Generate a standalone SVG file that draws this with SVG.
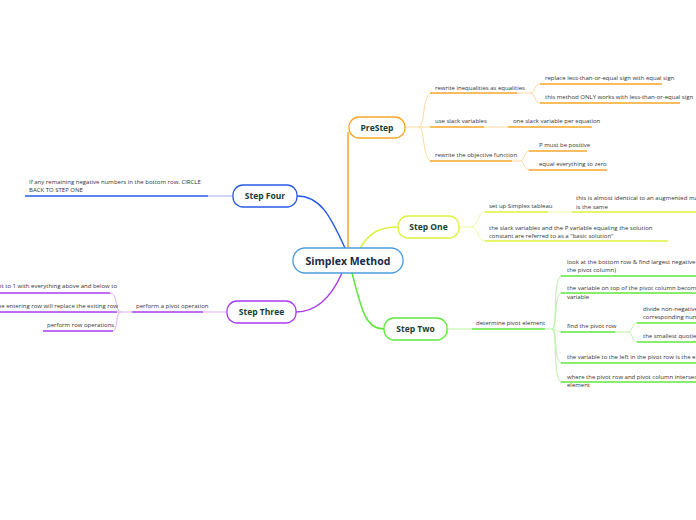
<svg xmlns="http://www.w3.org/2000/svg" width="696" height="520" viewBox="0 0 696 520">
<style>
.t{font-family:"Open Sans","Noto Sans",sans-serif;font-size:6px;fill:#333}
.n{font-family:"Open Sans","Noto Sans",sans-serif;font-size:8.5px;font-weight:bold;fill:#163f33;text-anchor:middle}
.c{font-family:"Open Sans","Noto Sans",sans-serif;font-size:10.5px;font-weight:bold;fill:#172a4a;text-anchor:middle}
.box{fill:#fff;stroke-width:1.3}
path{fill:none}
.o{stroke:#f7a62a;stroke-width:1.5}.ol{stroke:#fcd9a2;stroke-width:1}
.y{stroke:#dcf23c;stroke-width:1.5}.yl{stroke:#eef8a6;stroke-width:1}
.g{stroke:#5fe83c;stroke-width:1.5}.gl{stroke:#b6f4a4;stroke-width:1}
.p{stroke:#a93ef0;stroke-width:1.5}.pl{stroke:#dfb2f7;stroke-width:1}
.b{stroke:#2a5be8;stroke-width:1.5}.bl{stroke:#9db2f3;stroke-width:1}
</style>
<rect width="696" height="520" fill="#fff"/>
<g id="connectors">
<path class="o" d="M348,132 V248"/>
<path class="y" d="M360,248 C370,232 380,227 398,227"/>
<path class="g" d="M352,273 C362,312 366,329 384,329"/>
<path class="p" d="M342,273 C330,300 315,312 296,312"/>
<path class="b" d="M345,248 C330,215 320,196 297,196"/>
<!-- PreStep -->
<path class="ol" d="M405,127 H419"/>
<path class="ol" d="M419,127 C425,127 422,93 432,93"/>
<path class="ol" d="M419,127 H430"/>
<path class="ol" d="M419,127 C425,127 422,161 432,161"/>
<path class="o" d="M430,93 H517"/><path class="ol" d="M517,93 H530"/>
<path class="ol" d="M530,93 C536,93 533,84 541,84"/>
<path class="ol" d="M530,93 C536,93 533,103 541,103"/>
<path class="o" d="M540,84 H662"/>
<path class="o" d="M540,103 H680"/>
<path class="o" d="M430,127 H484"/><path class="ol" d="M484,127 H508"/>
<path class="o" d="M508,127 H592"/>
<path class="o" d="M430,161 H512"/><path class="ol" d="M512,161 H520"/>
<path class="ol" d="M520,161 C525,161 523,151 530,151"/>
<path class="ol" d="M520,161 C525,161 523,170 530,170"/>
<path class="o" d="M529,151 H587"/>
<path class="o" d="M529,170 H607"/>
<!-- Step One -->
<path class="yl" d="M459,227 H471"/>
<path class="yl" d="M471,227 C479,227 476,212 486,212"/>
<path class="yl" d="M471,227 C479,227 476,241 486,241"/>
<path class="y" d="M485,212 H548"/><path class="yl" d="M548,212 H572"/>
<path class="y" d="M572,212 H696"/>
<path class="y" d="M485,241 H668"/>
<!-- Step Two -->
<path class="gl" d="M447,329 H472"/>
<path class="g" d="M472,329 H545"/><path class="gl" d="M545,329 H552"/>
<path class="gl" d="M552,329 C558,329 552,276 562,276"/>
<path class="gl" d="M552,329 C558,329 553,293 562,293"/>
<path class="gl" d="M552,329 C557,329 556,332 562,332"/>
<path class="gl" d="M552,329 C558,329 553,363 562,363"/>
<path class="gl" d="M552,329 C558,329 552,382 562,382"/>
<path class="g" d="M561,276 H696"/>
<path class="g" d="M561,293 H696"/>
<path class="g" d="M561,332 H615"/><path class="gl" d="M615,332 H628"/>
<path class="gl" d="M628,332 C633,332 631,323 638,323"/>
<path class="gl" d="M628,332 C633,332 631,342 638,342"/>
<path class="g" d="M637,323 H696"/>
<path class="g" d="M637,342 H696"/>
<path class="g" d="M561,363 H696"/>
<path class="g" d="M561,382 H696"/>
<!-- Step Three -->
<path class="pl" d="M227,312 H203"/>
<path class="p" d="M203,312 H132"/><path class="pl" d="M132,312 H121"/>
<path class="pl" d="M121,312 C115,312 118,293 110,293"/>
<path class="pl" d="M121,312 H117"/>
<path class="pl" d="M121,312 C115,312 118,331 113,331"/>
<path class="p" d="M0,293 H110"/>
<path class="p" d="M0,312 H117"/>
<path class="p" d="M43,331 H113"/>
<!-- Step Four -->
<path class="bl" d="M233,196 H208"/>
<path class="b" d="M208,196 H25"/>
</g>
<g id="central"><rect class="box" x="293" y="248" width="110" height="25" rx="12" stroke="#4a9cdb"/><text class="c" x="348" y="264.5">Simplex Method</text></g>
<g id="prestep"><rect class="box" x="349" y="117" width="56" height="21" rx="10" stroke="#f7a62a"/><text class="n" x="377" y="130.5">PreStep</text></g>
<g id="stepone"><rect class="box" x="398" y="216" width="61" height="22" rx="10" stroke="#dcf23c"/><text class="n" x="428.5" y="230">Step One</text></g>
<g id="steptwo"><rect class="box" x="384" y="318" width="63" height="22" rx="10" stroke="#5fe83c"/><text class="n" x="415.5" y="332">Step Two</text></g>
<g id="stepthree"><rect class="box" x="227" y="301" width="69" height="22" rx="10" stroke="#a93ef0"/><text class="n" x="261.5" y="315">Step Three</text></g>
<g id="stepfour"><rect class="box" x="233" y="185" width="64" height="22" rx="10" stroke="#2a5be8"/><text class="n" x="265" y="199">Step Four</text></g>
<g id="texts">
<text class="t" x="435" y="90">rewrite inequalities as equalities</text>
<text class="t" x="545" y="80">replace less-than-or-equal sign with equal sign</text>
<text class="t" x="545" y="99">this method ONLY works with less-than-or-equal sign</text>
<text class="t" x="435" y="123">use slack variables</text>
<text class="t" x="513" y="123">one slack variable per equation</text>
<text class="t" x="435" y="157">rewrite the objective function</text>
<text class="t" x="539" y="147">P must be positive</text>
<text class="t" x="539" y="166">equal everything to zero</text>
<text class="t" x="489" y="208">set up Simplex tableau</text>
<text class="t" x="576" y="200">this is almost identical to an augmented ma</text>
<text class="t" x="576" y="209">is the same</text>
<text class="t" x="489" y="230">the slack variables and the P variable equaling the solution</text>
<text class="t" x="489" y="238">constant are referred to as a "basic solution"</text>
<text class="t" x="476" y="325">determine pivot element</text>
<text class="t" x="567" y="264">look at the bottom row &amp; find largest negative</text>
<text class="t" x="567" y="272">the pivot column)</text>
<text class="t" x="567" y="290">the variable on top of the pivot column becomes</text>
<text class="t" x="567" y="299">variable</text>
<text class="t" x="567" y="328">find the pivot row</text>
<text class="t" x="643" y="311">divide non-negative</text>
<text class="t" x="643" y="319">corresponding num</text>
<text class="t" x="643" y="338">the smallest quotie</text>
<text class="t" x="567" y="359">the variable to the left in the pivot row is the ex</text>
<text class="t" x="567" y="379">where the pivot row and pivot column intersect</text>
<text class="t" x="567" y="387">element</text>
<text class="t" x="29" y="184">If any remaining negative numbers in the bottom row, CIRCLE</text>
<text class="t" x="29" y="192">BACK TO STEP ONE</text>
<text class="t" x="136" y="308">perform a pivot operation</text>
<text class="t" x="117" y="288" text-anchor="end">nt to 1 with everything above and below to</text>
<text class="t" x="118" y="308" text-anchor="end">ne entering row will replace the exiting row</text>
<text class="t" x="47" y="327">perform row operations</text>
</g>
</svg>
